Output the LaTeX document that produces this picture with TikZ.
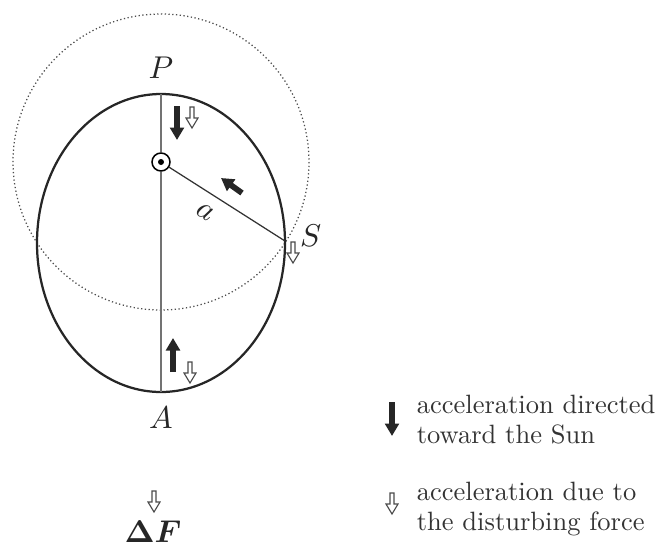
\documentclass[tikz,border=0pt]{standalone}
\usepackage{bm}
\usetikzlibrary{arrows.meta,positioning}
\begin{document}
\begin{tikzpicture}[x=0.4pt,y=-0.4pt,font=\fontsize{10.6}{12}\selectfont,
  orb/.style={draw=black!85,line width=0.9pt},
  axis/.style={draw=black!55,line width=0.5pt},
  acc/.style={-{Triangle[length=5pt,width=5.5pt]},line width=2.3pt,black!85},
  hol/.pic={\draw[black!70,fill=white,line width=0.45pt] (-2,0)--(-2,11)--(-6,11)--(0,21)--(6,11)--(2,11)--(2,0)--cycle;},
  lbl/.style={align=left,anchor=west,text=black!80},
  mlbl/.style={scale=1.15,text=black!85},
  node distance=2pt]
  \useasboundingbox (0,0) rectangle (660,548);
  \draw[black!70,line width=0.5pt,dash pattern=on 0.5pt off 1pt] (161,162) circle[radius=148];
  \draw[orb] (161,243) ellipse[x radius=124,y radius=149];
  \coordinate (P) at (161,94); \coordinate (A) at (161,392); \coordinate (S) at (285,241);
  \node[circle,draw,line width=0.6pt,minimum size=7.2pt,inner sep=0pt] (sun) at (161,162) {};
  \fill (sun.center) circle[radius=1.2pt];
  \draw[axis](P)--(sun);\draw[axis](sun)--(A);\draw[axis,black!80](sun)--(S);
  \node[mlbl,above=of P](lP){$P$};
  \node[mlbl,below=of A](lA){$A$};
  \node[mlbl,right=2pt of S,yshift=2pt](lS){$S$};
  \node[mlbl,rotate=-32](la) at (205,212){$a$};
  % accelerations toward the Sun
  \draw[acc](177,106)--(177,140);
  \draw[acc](173,372)--(173,338);
  \draw[acc](242,193)--(221,178);
  % disturbing force
  \pic at (192,107){hol}; \pic at (190,362){hol}; \pic at (293,242){hol};
  \pic at (154,491){hol};
  \node[mlbl](dF) at (153,532){$\bm{\Delta F}$};
  % legend
  \draw[acc](392,402)--(392,436);
  \node[lbl](t1) at (408,420){acceleration directed\\toward the Sun};
  \pic at (392,493){hol};
  \node[lbl](t2) at (408,509){acceleration due to\\the disturbing force};
\end{tikzpicture}
\end{document}
